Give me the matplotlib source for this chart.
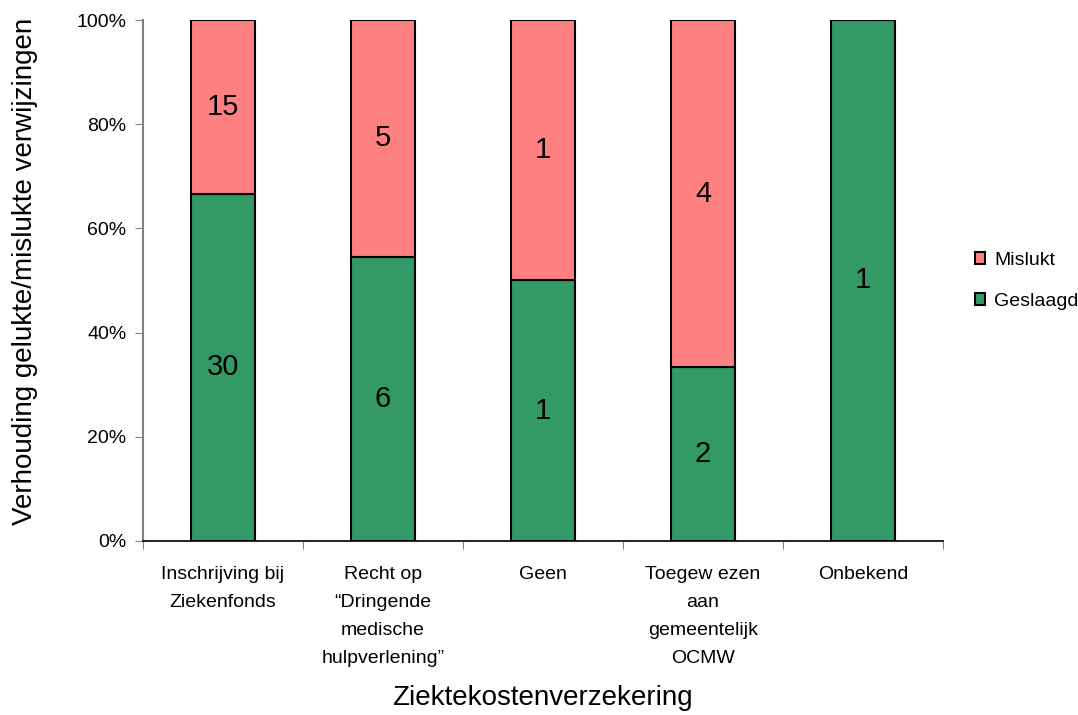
import matplotlib
matplotlib.use("Agg")
from matplotlib import pyplot as plt
import numpy as np

plt.rcParams['font.family'] = ['Liberation Sans', 'DejaVu Sans']

categories = ["Inschrijving bij\nZiekenfonds",
              "Recht op\n\u201cDringende\nmedische\nhulpverlening\u201d",
              "Geen",
              "Toegew ezen\naan\ngemeentelijk\nOCMW",
              "Onbekend"]
geslaagd = [30, 6, 1, 2, 1]
mislukt = [15, 5, 1, 4, 0]

green = '#339966'
red = '#FF8080'

g = np.array(geslaagd, dtype=float)
m = np.array(mislukt, dtype=float)
tot = g + m
g_pct = g / tot * 100
m_pct = m / tot * 100
x = np.arange(len(categories))

fig = plt.figure(figsize=(10.78, 7.15), dpi=100)
ax = fig.add_axes([0.1327, 0.2434, 0.742, 0.7286])

ax.bar(x, g_pct, width=0.4, color=green, edgecolor='black', linewidth=1.5, label='Geslaagd', zorder=3)
ax.bar(x, m_pct, width=0.4, bottom=g_pct, color=red, edgecolor='black', linewidth=1.5, label='Mislukt', zorder=3)

for i in range(len(x)):
    if g[i] > 0:
        ax.text(x[i], g_pct[i] / 2, str(geslaagd[i]), ha='center', va='center', fontsize=21, zorder=4)
    if m[i] > 0:
        ax.text(x[i], g_pct[i] + m_pct[i] / 2, str(mislukt[i]), ha='center', va='center', fontsize=21, zorder=4)

ax.set_xlim(-0.5, len(x) - 0.5)
ax.set_ylim(0, 100)
ax.set_yticks(np.arange(0, 101, 20))
ax.set_yticklabels([f"{v}%" for v in range(0, 101, 20)], fontsize=14)
ax.set_xticks(np.arange(-0.5, len(x), 1.0))
ax.set_xticklabels([])
ax.set_xticks(x, minor=True)
ax.set_xticklabels(categories, minor=True, fontsize=14, linespacing=1.85)
ax.tick_params(axis='x', which='minor', length=0, pad=18)
ax.tick_params(axis='x', which='major', length=6, color='#808080')
ax.tick_params(axis='y', length=6, color='#808080', pad=6)

for s in ['top', 'right']:
    ax.spines[s].set_visible(False)
ax.spines['left'].set_color('#808080')
ax.spines['left'].set_linewidth(1.5)
ax.spines['bottom'].set_color('black')
ax.spines['bottom'].set_linewidth(1.2)

# axis titles placed in figure coordinates
fig.text(0.0232, 0.62, 'Verhouding gelukte/mislukte verwijzingen', rotation=90,
         ha='center', va='center', fontsize=20)
fig.text(0.503, 0.024, 'Ziektekostenverzekering', ha='center', va='center', fontsize=20)

handles, labels = ax.get_legend_handles_labels()
fig.legend(handles[::-1], labels[::-1], loc='center left', bbox_to_anchor=(0.888, 0.607),
           frameon=False, fontsize=14, handlelength=0.55, handleheight=0.55,
           handletextpad=0.45, labelspacing=1.25)

fig.savefig('out.png', dpi=100)
